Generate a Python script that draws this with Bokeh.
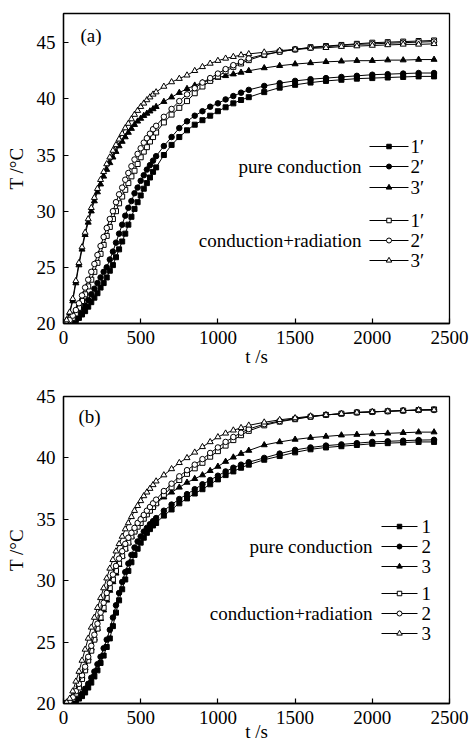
from bokeh.plotting import figure
from bokeh.models import Label, Range1d, FixedTicker
from bokeh.layouts import column
from bokeh.embed import file_html
from bokeh.resources import INLINE

FONT = "Liberation Serif"

# ---------------- data ----------------
time_s = [0, 20, 40, 60, 80, 100, 120, 140, 160, 180, 200, 220, 240, 260, 280, 300,
          320, 340, 360, 380, 400, 420, 440, 460, 480, 500, 520, 540, 560, 580, 600,
          650, 700, 750, 800, 850, 900, 950, 1000, 1050, 1100, 1150, 1200,
          1300, 1400, 1500, 1600, 1700, 1800, 1900, 2000, 2100, 2200, 2300, 2400]

x_ticks = [0, 500, 1000, 1500, 2000, 2500]
y_ticks = [20, 25, 30, 35, 40, 45]
x_title = "t /s"
y_title = "T /\u00b0C"

# panel (a)
a_pure1 = [20.0, 20.01, 20.05, 20.15, 20.3, 20.5, 20.8, 21.1, 21.5, 21.9, 22.3, 22.7, 23.2, 23.6, 24.1, 24.7,
           25.2, 25.9, 26.6, 27.3, 28.0, 28.8, 29.5, 30.2, 30.8, 31.4, 32.0, 32.5, 33.0, 33.5, 33.9,
           35.0, 35.9, 36.6, 37.2, 37.7, 38.1, 38.5, 38.9, 39.25, 39.6, 39.9, 40.15,
           40.6, 41.0, 41.25, 41.45, 41.6, 41.7, 41.8, 41.85, 41.9, 41.95, 42.0, 42.0]
a_pure2 = [20.0, 20.02, 20.1, 20.3, 20.5, 20.8, 21.2, 21.6, 22.1, 22.6, 23.1, 23.6, 24.1, 24.6, 25.0, 25.7,
           26.4, 27.2, 28.0, 28.8, 29.6, 30.3, 30.9, 31.6, 32.1, 32.7, 33.2, 33.7, 34.1, 34.5, 34.9,
           35.8, 36.6, 37.4, 38.0, 38.5, 38.9, 39.3, 39.6, 39.95, 40.25, 40.55, 40.8,
           41.15, 41.4, 41.6, 41.75, 41.85, 41.95, 42.05, 42.15, 42.2, 42.25, 42.3, 42.3]
a_pure3 = [20.0, 20.3, 20.9, 22.0, 23.6, 25.2, 26.6, 27.9, 29.0, 30.0, 30.9, 31.7, 32.4, 33.1, 33.7, 34.3,
           34.8, 35.3, 35.8, 36.2, 36.6, 37.0, 37.35, 37.7, 38.0, 38.25, 38.5, 38.7, 38.9, 39.1, 39.3,
           39.75, 40.15, 40.55, 40.9, 41.2, 41.45, 41.7, 41.9, 42.05, 42.2, 42.35, 42.5,
           42.75, 42.95, 43.1, 43.2, 43.3, 43.35, 43.4, 43.4, 43.45, 43.45, 43.5, 43.5]
a_rad1 = [20.0, 20.05, 20.2, 20.5, 20.9, 21.4, 22.0, 22.6, 23.3, 23.9, 24.6, 25.4, 26.2, 27.0, 27.8, 28.6,
          29.3, 30.0, 30.7, 31.3, 31.9, 32.5, 33.1, 33.6, 34.2, 34.8, 35.3, 35.7, 36.2, 36.6, 37.0,
          37.9, 38.6, 39.2, 39.8, 40.5, 41.1, 41.6, 42.0, 42.45, 42.85, 43.15, 43.45,
          43.9, 44.2, 44.4, 44.6, 44.7, 44.8, 44.9, 45.0, 45.05, 45.1, 45.15, 45.2]
a_rad2 = [20.0, 20.1, 20.3, 20.7, 21.2, 21.8, 22.5, 23.2, 23.9, 24.6, 25.3, 26.1, 26.9, 27.7, 28.5, 29.3,
          30.0, 30.8, 31.5, 32.1, 32.8, 33.4, 34.0, 34.6, 35.1, 35.6, 36.1, 36.5, 36.9, 37.3, 37.6,
          38.4, 39.1, 39.8, 40.4, 40.95, 41.45, 41.85, 42.25, 42.65, 43.0, 43.3, 43.6,
          43.95, 44.2, 44.4, 44.55, 44.65, 44.75, 44.85, 44.9, 44.95, 45.0, 45.05, 45.1]
a_rad3 = [20.0, 20.3, 21.0, 22.2, 23.8, 25.4, 26.8, 28.1, 29.3, 30.3, 31.2, 32.0, 32.8, 33.5, 34.2, 34.8,
          35.4, 35.9, 36.4, 36.9, 37.4, 37.8, 38.2, 38.6, 38.95, 39.3, 39.6, 39.9, 40.15, 40.4, 40.6,
          41.1, 41.5, 41.8, 42.1, 42.5, 42.85, 43.15, 43.4, 43.6, 43.75, 43.9, 44.0,
          44.15, 44.3, 44.4, 44.5, 44.55, 44.65, 44.7, 44.75, 44.8, 44.85, 44.85, 44.9]

# panel (b)
b_pure1 = [20.0, 20.0, 20.03, 20.1, 20.2, 20.4, 20.6, 20.9, 21.3, 21.7, 22.2, 22.7, 23.3, 23.9, 24.6, 25.3,
           26.3, 27.4, 28.4, 29.3, 30.1, 30.8, 31.5, 32.1, 32.6, 33.1, 33.5, 33.9, 34.2, 34.5, 34.7,
           35.3, 35.8, 36.3, 36.7, 37.1, 37.45, 37.85, 38.25, 38.6, 38.9, 39.2, 39.45,
           39.85, 40.15, 40.45, 40.7, 40.85, 40.95, 41.05, 41.15, 41.2, 41.25, 41.3, 41.3]
b_pure2 = [20.0, 20.01, 20.05, 20.15, 20.3, 20.5, 20.8, 21.2, 21.6, 22.1, 22.6, 23.2, 23.8, 24.5, 25.2, 26.0,
           27.0, 28.0, 29.0, 29.9, 30.7, 31.4, 32.1, 32.7, 33.2, 33.6, 34.0, 34.3, 34.6, 34.85, 35.1,
           35.7, 36.2, 36.65, 37.05, 37.45, 37.85, 38.2, 38.55, 38.9, 39.2, 39.45, 39.65,
           40.0, 40.35, 40.65, 40.85, 41.0, 41.1, 41.2, 41.3, 41.35, 41.4, 41.45, 41.47]
b_pure3 = [20.0, 20.05, 20.2, 20.5, 20.9, 21.5, 22.2, 22.9, 23.7, 24.5, 25.3, 26.1, 26.9, 27.6, 28.4, 29.2,
           29.9, 30.6, 31.3, 32.0, 32.6, 33.1, 33.6, 34.1, 34.6, 35.0, 35.3, 35.6, 35.9, 36.1, 36.3,
           36.8, 37.2, 37.6, 38.0, 38.3, 38.6, 38.95, 39.3, 39.7, 40.05, 40.35, 40.6,
           41.05, 41.3, 41.5, 41.65, 41.75, 41.85, 41.9, 41.95, 42.0, 42.05, 42.1, 42.1]
b_rad1 = [20.0, 20.03, 20.15, 20.4, 20.8, 21.3, 22.0, 22.7, 23.5, 24.3, 25.2, 26.1, 27.0, 27.8, 28.6, 29.4,
          30.1, 30.8, 31.4, 32.0, 32.6, 33.1, 33.6, 34.0, 34.4, 34.7, 35.05, 35.4, 35.7, 36.0, 36.3,
          37.0, 37.6, 38.2, 38.7, 39.15, 39.6, 40.1, 40.55, 41.0, 41.45, 41.85, 42.2,
          42.65, 42.95, 43.15, 43.35, 43.5, 43.6, 43.7, 43.75, 43.8, 43.85, 43.9, 43.95]
b_rad2 = [20.0, 20.05, 20.2, 20.5, 21.0, 21.6, 22.3, 23.0, 23.8, 24.7, 25.6, 26.5, 27.4, 28.2, 29.0, 29.8,
          30.5, 31.2, 31.8, 32.4, 33.0, 33.5, 33.9, 34.3, 34.7, 35.0, 35.35, 35.7, 36.0, 36.3, 36.6,
          37.3, 37.9, 38.5, 39.0, 39.45, 39.9, 40.4, 40.85, 41.3, 41.7, 42.05, 42.35,
          42.75, 43.0, 43.2, 43.35, 43.5, 43.6, 43.7, 43.75, 43.8, 43.85, 43.9, 43.9]
b_rad3 = [20.0, 20.1, 20.4, 21.0, 21.8, 22.6, 23.5, 24.4, 25.3, 26.2, 27.0, 27.8, 28.6, 29.4, 30.2, 31.0,
          31.7, 32.4, 33.0, 33.6, 34.2, 34.7, 35.2, 35.7, 36.1, 36.5, 36.9, 37.2, 37.5, 37.8, 38.1,
          38.6, 39.1, 39.6, 40.0, 40.45, 40.9, 41.3, 41.7, 42.0, 42.25, 42.45, 42.65,
          42.9, 43.1, 43.25, 43.4, 43.5, 43.6, 43.7, 43.75, 43.8, 43.85, 43.9, 43.9]

labels_a = ["1\u2032", "2\u2032", "3\u2032"]
labels_b = ["1", "2", "3"]
group_pure = "pure conduction"
group_rad = "conduction+radiation"

# ---------------- styles / layout (pixels) ----------------
MARKERS = [("square", 5), ("circle", 5.5), ("triangle", 6)]
FRAME_L, FRAME_W = 63, 386
FS = "19px"


def make_panel(pure, rad, labels, tag, y_top, height, b_top, frame_h,
               leg_x0, leg_x1, lab_x, rows, grp_x, tag_px, xlab_standoff):
    b_bottom = height - b_top - frame_h
    p = figure(width=471, height=height, output_backend="svg", toolbar_location=None,
               x_range=Range1d(0, 2500), y_range=Range1d(20, y_top),
               min_border_left=FRAME_L, min_border_right=471 - FRAME_L - FRAME_W,
               min_border_top=b_top, min_border_bottom=b_bottom)
    p.xgrid.visible = False
    p.ygrid.visible = False
    p.outline_line_color = "black"
    p.outline_line_width = 1.3
    p.outline_line_alpha = 1.0
    p.background_fill_color = "white"
    p.border_fill_color = "white"

    p.xaxis.ticker = FixedTicker(ticks=x_ticks)
    p.yaxis.ticker = FixedTicker(ticks=y_ticks)
    for ax in (p.xaxis[0], p.yaxis[0]):
        ax.major_tick_in = 5
        ax.major_tick_out = 0
        ax.minor_tick_in = 0
        ax.minor_tick_out = 0
        ax.axis_line_width = 1.3
        ax.major_tick_line_width = 1.2
        ax.major_label_text_font = FONT
        ax.major_label_text_font_size = FS
        ax.major_label_text_color = "black"
        ax.axis_label_text_font = FONT
        ax.axis_label_text_font_size = FS
        ax.axis_label_text_font_style = "normal"
        ax.axis_label_text_color = "black"
    p.xaxis.major_label_standoff = 7
    p.yaxis.major_label_standoff = 8
    p.xaxis.axis_label = x_title
    p.yaxis.axis_label = y_title
    p.xaxis.axis_label_standoff = xlab_standoff
    p.yaxis.axis_label_standoff = 7

    # pixel -> data helpers (for placing decorations only)
    def fx(px):
        return (px - FRAME_L) / FRAME_W * 2500.0

    def fy(py):
        return 20.0 + (b_top + frame_h - py) / frame_h * (y_top - 20.0)

    for series, hollow in ((pure, False), (rad, True)):
        for (marker, size), ys in zip(MARKERS, series):
            p.line(time_s, ys, line_color="black", line_width=1)
            p.scatter(time_s, ys, marker=marker, size=size,
                      fill_color="white" if hollow else "black",
                      line_color="black", line_width=1)

    # custom legend (group name on the left, samples + numbers on the right)
    k = 0
    for hollow in (False, True):
        for (marker, size), lab in zip(MARKERS, labels):
            ry = fy(rows[k])
            p.line([fx(leg_x0), fx(leg_x1)], [ry, ry], line_color="black", line_width=1)
            p.scatter([fx((leg_x0 + leg_x1) / 2)], [ry], marker=marker, size=size - 0.5,
                      fill_color="white" if hollow else "black",
                      line_color="black", line_width=1)
            p.add_layout(Label(x=fx(lab_x), y=ry, text=lab, text_align="left",
                               text_baseline="middle", text_font=FONT,
                               text_font_size=FS, text_color="black"))
            k += 1
    for txt, r in ((group_pure, rows[1]), (group_rad, rows[4])):
        p.add_layout(Label(x=fx(grp_x), y=fy(r), text=txt, text_align="right",
                           text_baseline="middle", text_font=FONT,
                           text_font_size=FS, text_color="black"))

    p.add_layout(Label(x=fx(tag_px[0]), y=fy(tag_px[1]), text=tag, text_align="left",
                       text_baseline="middle", text_font=FONT,
                       text_font_size=FS, text_color="black"))
    return p


pa = make_panel([a_pure1, a_pure2, a_pure3], [a_rad1, a_rad2, a_rad3], labels_a, "(a)",
                47.6, 370, 13, 310,
                369, 408, 410, [146, 166, 187, 220, 240, 260], 361, (80, 35), -1)
pb = make_panel([b_pure1, b_pure2, b_pure3], [b_rad1, b_rad2, b_rad3], labels_b, "(b)",
                45, 375, 26, 307,
                381, 417, 421, [156, 176, 196, 223, 243, 263], 372, (78, 46), -6)

layout = column(pa, pb, spacing=0)
open("out.html", "w").write(file_html(layout, INLINE))
